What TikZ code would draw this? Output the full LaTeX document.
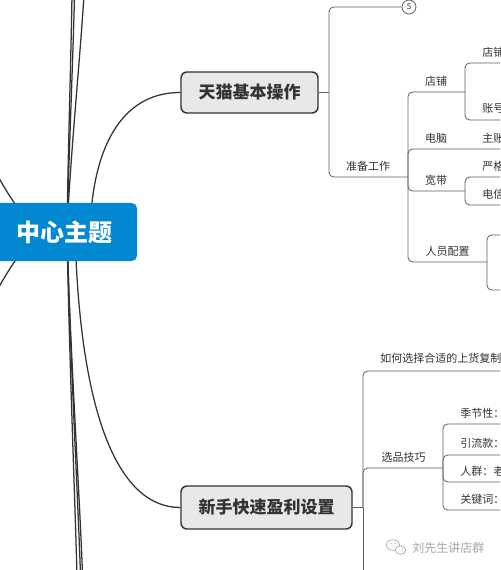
\documentclass[tikz,border=0pt]{standalone}
\usepackage{fontspec}
\setmainfont{Noto Sans CJK SC}
\usetikzlibrary{calc}
\definecolor{mainblue}{RGB}{2,136,209}
\definecolor{subfill}{RGB}{232,232,232}
\definecolor{edgecol}{RGB}{51,51,51}
\definecolor{buscol}{RGB}{95,95,95}
\definecolor{labcol}{RGB}{51,51,51}
\definecolor{wmcol}{RGB}{165,165,165}
\begin{document}
\begin{tikzpicture}[x=0.75pt,y=-0.75pt,
  curve/.style={draw=edgecol,line width=0.95pt},
  bus/.style={draw=buscol,line width=0.6pt,rounded corners=3.5pt},
  maintopic/.style={fill=mainblue,rounded corners=4pt,text=white,
    font=\fontsize{18}{20}\selectfont\bfseries,minimum width=108.75pt,minimum height=43.5pt,inner sep=0},
  subtopic/.style={draw=edgecol,line width=1.1pt,fill=subfill,rounded corners=4.5pt,text=edgecol,
    font=\fontsize{12.75}{14}\selectfont\bfseries,inner sep=0},
  lab/.style={text=labcol,font=\fontsize{8.25}{10}\selectfont,inner sep=0},
  labw/.style={lab,anchor=west},
  wm/.style={text=wmcol,font=\fontsize{9}{10}\selectfont,inner sep=0,anchor=west}]
\useasboundingbox (0,0) rectangle (500,570);
\clip (0,0) rectangle (500,570);
\fill[white] (0,0) rectangle (500,570);

% hub points of the central topic
\coordinate (c) at (67,232);
\coordinate (cr) at (90,232);
\coordinate (cb) at (75,232);
\coordinate (cl) at (40,232);

% far branches (off picture)
\coordinate (u1) at (72,-5);
\coordinate (u2) at (74.5,-5);
\coordinate (u3) at (84,-5);
\coordinate (d1) at (77,575);
\coordinate (d2) at (80.5,575);
\coordinate (d3) at (82.5,575);
\coordinate (l1) at (-8,165);
\coordinate (l2) at (-8,300);
\draw[curve] (c) .. controls (68,150) and (71,60) .. (u1);
\draw[curve] (c) .. controls (69,150) and (73,60) .. (u2);
\draw[curve] (c) .. controls (70,160) and (80,60) .. (u3);
\draw[curve] (c) .. controls (69,350) and (75,500) .. (d1);
\draw[curve] (c) .. controls (70,350) and (78,500) .. (d2);
\draw[curve] (c) .. controls (70,350) and (80,500) .. (d3);
\draw[curve] (cl) .. controls (20,215) and (5,190) .. (l1);
\draw[curve] (cl) .. controls (20,250) and (5,275) .. (l2);

% main subtopics
\node[subtopic,minimum width=102.75pt,minimum height=30.75pt] (tm) at (249.5,92.5) {天猫基本操作};
\node[subtopic,minimum width=128.25pt,minimum height=32.25pt] (xs) at (266.5,507.5) {新手快速盈利设置};
\draw[curve] (cr) .. controls (92,150) and (120,92.5) .. (tm.west);
\draw[curve] (cb) .. controls (80,420) and (120,507.5) .. (xs.west);

\node[maintopic] (main) at (64.5,232) {中心主题};

% ---- 天猫基本操作 branch
\coordinate (j1) at (329,92.5);
\node[draw=buscol,line width=0.6pt,circle,minimum size=10.5pt,inner sep=0,
  font=\fontsize{6}{6}\selectfont,text=labcol] (n5) at (409,7) {5};
\coordinate (j2) at (408,177);
\draw[bus] (tm.east) -- (j1);
\draw[bus] (j1) |- (n5.west);
\draw[bus] (j1) |- (j2);
\node[lab] (zb) at (368,166) {准备工作};

\coordinate (j3) at (465,92);
\coordinate (j4) at (465,191);
\coordinate (j5) at (487,262);
\coordinate (e1) at (510,149);
\draw[bus] (j2) |- (j3);
\draw[bus] (j2) |- (e1);
\draw[bus] (j2) |- (j4);
\draw[bus] (j2) |- (j5);
\node[lab] (dp) at (436,81) {店铺};
\node[lab] (dn) at (436,138) {电脑};
\node[lab] (kd) at (436,180) {宽带};
\node[lab] (ry) at (447.5,251) {人员配置};
\node[labw] (zz) at (482,138) {主账};

\coordinate (e2) at (510,63);
\coordinate (e3) at (510,120);
\draw[bus] (j3) |- (e2);
\draw[bus] (j3) |- (e3);
\node[labw] (dp2) at (482,52) {店铺};
\node[labw] (zh) at (482,108) {账号};

\coordinate (e4) at (510,177);
\coordinate (e5) at (510,205);
\draw[bus] (j4) |- (e4);
\draw[bus] (j4) |- (e5);
\node[labw] (yg) at (482,166) {严格};
\node[labw] (dx) at (482,194) {电信};

\coordinate (e6) at (510,235);
\coordinate (e7) at (510,290);
\draw[bus] (j5) |- (e6);
\draw[bus] (j5) |- (e7);

% ---- 新手快速盈利设置 branch
\coordinate (j6) at (363,507.5);
\coordinate (j7) at (443,468);
\coordinate (f1) at (510,371);
\coordinate (f2) at (363,580);
\draw[bus] (xs.east) -- (j6);
\draw[bus] (j6) |- (f1);
\draw[bus] (j6) |- (j7);
\draw[bus] (j6) -- (f2);
\node[labw] (rh) at (380,358) {如何选择合适的上货复制};
\node[lab] (xp) at (403.5,457) {选品技巧};

\coordinate (g1) at (510,424);
\coordinate (g2) at (510,455);
\coordinate (g3) at (510,482);
\coordinate (g4) at (510,510);
\draw[bus] (j7) |- (g1);
\draw[bus] (j7) |- (g2);
\draw[bus] (j7) |- (g3);
\draw[bus] (j7) |- (g4);
\node[labw] (jj) at (460,413) {季节性：};
\node[labw] (yl) at (460,443) {引流款：};
\node[labw] (rq) at (460,471) {人群：老};
\node[labw] (gj) at (460,499) {关键词：};

% ---- watermark
\draw[wmcol,line width=0.5pt] (393,545) ellipse [x radius=6.5,y radius=5.2];
\filldraw[draw=wmcol,fill=white,line width=0.5pt] (400.5,550) ellipse [x radius=5.2,y radius=4.3];
\fill[wmcol] (391,543.5) circle (0.7) (395.5,543.5) circle (0.7) (398.8,549) circle (0.55) (402.2,549) circle (0.55);
\node[wm] (wt) at (412,548) {刘先生讲店群};
\end{tikzpicture}
\end{document}
